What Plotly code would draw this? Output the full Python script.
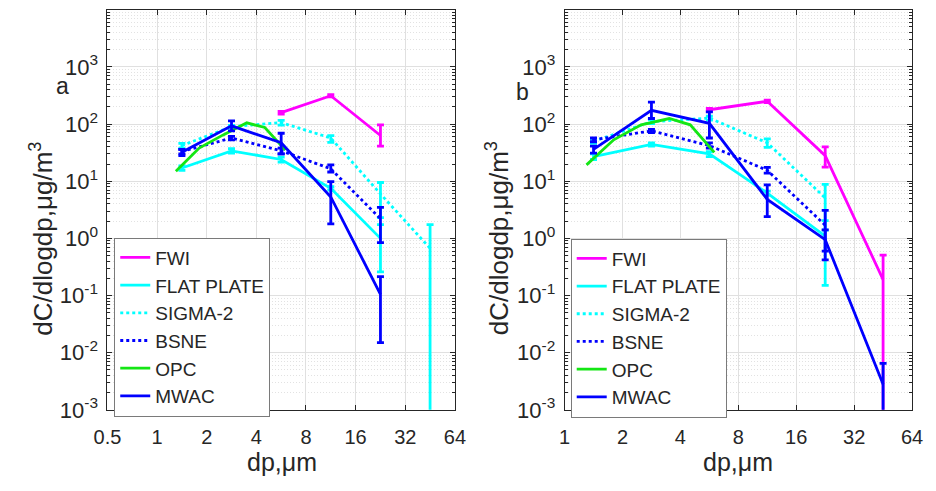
import math
import plotly.graph_objects as go

# ---------------- data ----------------
dp = [1.414, 2.828, 5.657, 11.31, 22.63, 45.25]
opc_dp = [1.3, 1.8, 2.5, 3.5, 4.5, 6.0]

series_names = ["FWI", "FLAT PLATE", "SIGMA-2", "BSNE", "OPC", "MWAC"]

# panel a
a_fwi_x = [5.657, 11.31, 22.63]
a_fwi = [158, 313, 63]
a_fwi_ep = [9, 15, 34]
a_fwi_em = [9, 15, 22]

a_flat_x = [1.414, 2.828, 5.657, 11.31, 22.63]
a_flat = [17, 34, 24, 7.5, 1.0]
a_flat_ep = [1.5, 3, 2.5, 0.5, 0.74]
a_flat_em = [1.5, 3, 2.5, 0.5, 0.74]

a_sig_x = [1.414, 2.828, 5.657, 11.31, 22.63, 45.25]
a_sig = [42, 90, 106, 57, 6.0, 0.67]
a_sig_ep = [4, 5, 10, 6, 3.5, 1.07]
a_sig_em = [4, 5, 10, 9, 3.7, 1.07]

a_bsne_x = [1.414, 2.828, 5.657, 11.31, 22.63]
a_bsne = [33, 57, 34, 16.5, 2.2]
a_bsne_ep = [3, 4, 4, 2.8, 1.3]
a_bsne_em = [3, 4, 4, 2.0, 1.36]

a_opc = [15, 38, 64, 105, 87, 35]

a_mwac_x = [1.414, 2.828, 5.657, 11.31, 22.63]
a_mwac = [32, 93, 47, 5.3, 0.105]
a_mwac_ep = [4, 21, 22, 4.5, 0.11]
a_mwac_em = [4, 17, 17, 3.5, 0.09]

# panel b
b_fwi_x = [5.657, 11.31, 22.63, 45.25]
b_fwi = [178, 250, 28, 0.19]
b_fwi_ep = [9, 12, 12, 0.32]
b_fwi_em = [9, 12, 10.4, 0.32]

b_flat_x = [1.414, 2.828, 5.657, 11.31, 22.63]
b_flat = [27, 44, 30, 6.2, 1.1]
b_flat_ep = [3, 3, 3, 0.5, 0.95]
b_flat_em = [3, 3, 3, 0.5, 0.95]

b_sig_x = [1.414, 2.828, 5.657, 11.31, 22.63]
b_sig = [50, 110, 127, 47, 5.1]
b_sig_ep = [4, 8, 10, 8, 3.7]
b_sig_em = [4, 8, 10, 8, 3.7]

b_bsne_x = [1.414, 2.828, 5.657, 11.31, 22.63]
b_bsne = [53, 76, 42, 15.5, 1.7]
b_bsne_ep = [4, 5, 5, 2, 1.4]
b_bsne_em = [4, 5, 4, 1.7, 1.1]

b_opc = [19.3, 53, 97, 125, 97, 32]

b_mwac_x = [1.414, 2.828, 5.657, 11.31, 22.63, 45.25]
b_mwac = [36, 174, 103, 4.8, 0.95, 0.0028]
b_mwac_ep = [5, 67, 60, 3.8, 0.46, 0.0037]
b_mwac_em = [5, 49, 46, 2.4, 0.53, 0.0037]

a_xticks = [0.5, 1, 2, 4, 8, 16, 32, 64]
a_xticklabels = ["0.5", "1", "2", "4", "8", "16", "32", "64"]
b_xticks = [1, 2, 4, 8, 16, 32, 64]
b_xticklabels = ["1", "2", "4", "8", "16", "32", "64"]
y_exps = [-3, -2, -1, 0, 1, 2, 3]

# ---------------- styling ----------------
W, H = 936, 491
FONT = "Liberation Sans, Arial, sans-serif"
TXT = "#262626"
MAG, CYA, BLU, GRN = "#ff00ff", "#00ffff", "#0000ff", "#14e614"
LW = 2.8

fig = go.Figure()


def add(x, y, name, color, dash, xa, ya, leg, ep=None, em=None):
    err = None
    if ep is not None:
        err = dict(type="data", symmetric=False, array=ep, arrayminus=em,
                   color=color, thickness=2.8, width=3.5)
    fig.add_trace(go.Scatter(
        x=x, y=y, name=name, mode="lines",
        line=dict(color=color, width=LW, dash=dash),
        error_y=err, xaxis=xa, yaxis=ya, legend=leg))


for xa, ya, leg, d in [
    ("x", "y", "legend", dict(
        fwi=(a_fwi_x, a_fwi, a_fwi_ep, a_fwi_em),
        flat=(a_flat_x, a_flat, a_flat_ep, a_flat_em),
        sig=(a_sig_x, a_sig, a_sig_ep, a_sig_em),
        bsne=(a_bsne_x, a_bsne, a_bsne_ep, a_bsne_em),
        opc=a_opc,
        mwac=(a_mwac_x, a_mwac, a_mwac_ep, a_mwac_em))),
    ("x2", "y2", "legend2", dict(
        fwi=(b_fwi_x, b_fwi, b_fwi_ep, b_fwi_em),
        flat=(b_flat_x, b_flat, b_flat_ep, b_flat_em),
        sig=(b_sig_x, b_sig, b_sig_ep, b_sig_em),
        bsne=(b_bsne_x, b_bsne, b_bsne_ep, b_bsne_em),
        opc=b_opc,
        mwac=(b_mwac_x, b_mwac, b_mwac_ep, b_mwac_em))),
]:
    x, y, ep, em = d["fwi"]
    add(x, y, series_names[0], MAG, "solid", xa, ya, leg, ep, em)
    x, y, ep, em = d["flat"]
    add(x, y, series_names[1], CYA, "solid", xa, ya, leg, ep, em)
    x, y, ep, em = d["sig"]
    add(x, y, series_names[2], CYA, "dot", xa, ya, leg, ep, em)
    x, y, ep, em = d["bsne"]
    add(x, y, series_names[3], BLU, "dot", xa, ya, leg, ep, em)
    add(opc_dp, d["opc"], series_names[4], GRN, "solid", xa, ya, leg)
    x, y, ep, em = d["mwac"]
    add(x, y, series_names[5], BLU, "solid", xa, ya, leg, ep, em)

minor_y = [k * 10.0 ** n for n in range(-3, 4) for k in range(2, 10)]
ytickvals = [10.0 ** e for e in y_exps]
yticktext = ["10<sup>%d</sup>" % e for e in y_exps]

y0, y1 = 1 - 421 / H, 1 - 10 / H
common_ax = dict(showline=True, linecolor=TXT, linewidth=1, mirror="allticks",
                 ticks="inside", ticklen=5, tickcolor=TXT, tickwidth=1,
                 showgrid=True, gridcolor="#e0e0e0", gridwidth=1,
                 zeroline=False, tickfont=dict(family=FONT, size=20, color=TXT))
yax = dict(common_ax, type="log", range=[-3, 4], tickmode="array",
           tickvals=ytickvals, ticktext=yticktext, ticklabelstandoff=4,
           tickfont=dict(family=FONT, size=22, color=TXT),
           minor=dict(tickmode="array", tickvals=minor_y, ticks="inside",
                      ticklen=3, tickcolor=TXT, showgrid=True,
                      gridcolor="#e2e2e2", griddash="1px,2px", gridwidth=1))

fig.update_layout(
    width=W, height=H, margin=dict(l=0, r=0, t=0, b=0),
    paper_bgcolor="white", plot_bgcolor="white",
    font=dict(family=FONT, color=TXT),
    xaxis=dict(common_ax, type="log", domain=[96 / W, 453 / W],
               range=[math.log10(0.5), math.log10(64)], tickmode="array",
               tickvals=a_xticks, ticktext=a_xticklabels, anchor="y",
               ticklabelstandoff=9),
    yaxis=dict(yax, domain=[y0, y1], anchor="x"),
    xaxis2=dict(common_ax, type="log", domain=[565.7 / W, 922.7 / W],
                range=[0, math.log10(64)], tickmode="array",
                tickvals=b_xticks, ticktext=b_xticklabels, anchor="y2",
                ticklabelstandoff=9),
    yaxis2=dict(yax, domain=[y0, y1], anchor="x2"),
    showlegend=True,
    legend=dict(x=103 / W, y=1 - 244 / H, xanchor="left", yanchor="top",
                bgcolor="white", bordercolor="#7a7a7a", borderwidth=1,
                font=dict(family=FONT, size=19, color=TXT), itemwidth=30,
                tracegroupgap=0),
    legend2=dict(x=572 / W, y=1 - 245 / H, xanchor="left", yanchor="top",
                 bgcolor="white", bordercolor="#7a7a7a", borderwidth=1,
                 font=dict(family=FONT, size=19, color=TXT), itemwidth=30,
                 tracegroupgap=0),
)

ylab = "dC/dlogdp,\u03bcg/m<sup>3</sup>"
xlab = "dp,\u03bcm"
ann = [
    dict(text=ylab, x=28 / W, y=1 - 245 / H, textangle=-90, size=26),
    dict(text=ylab, x=497 / W, y=1 - 245 / H, textangle=-90, size=26),
    dict(text=xlab, x=275 / W, y=1 - 475 / H, size=25),
    dict(text=xlab, x=744 / W, y=1 - 475 / H, size=25),
    dict(text="a", x=50 / W, y=1 - 88 / H, size=23),
    dict(text="b", x=522 / W, y=1 - 95 / H, size=23),
]
for a in ann:
    s = a.pop("size")
    fig.add_annotation(xref="paper", yref="paper", showarrow=False,
                       xanchor="center", yanchor="middle",
                       font=dict(family=FONT, size=s, color=TXT), **a)

fig.write_html("out.html")
